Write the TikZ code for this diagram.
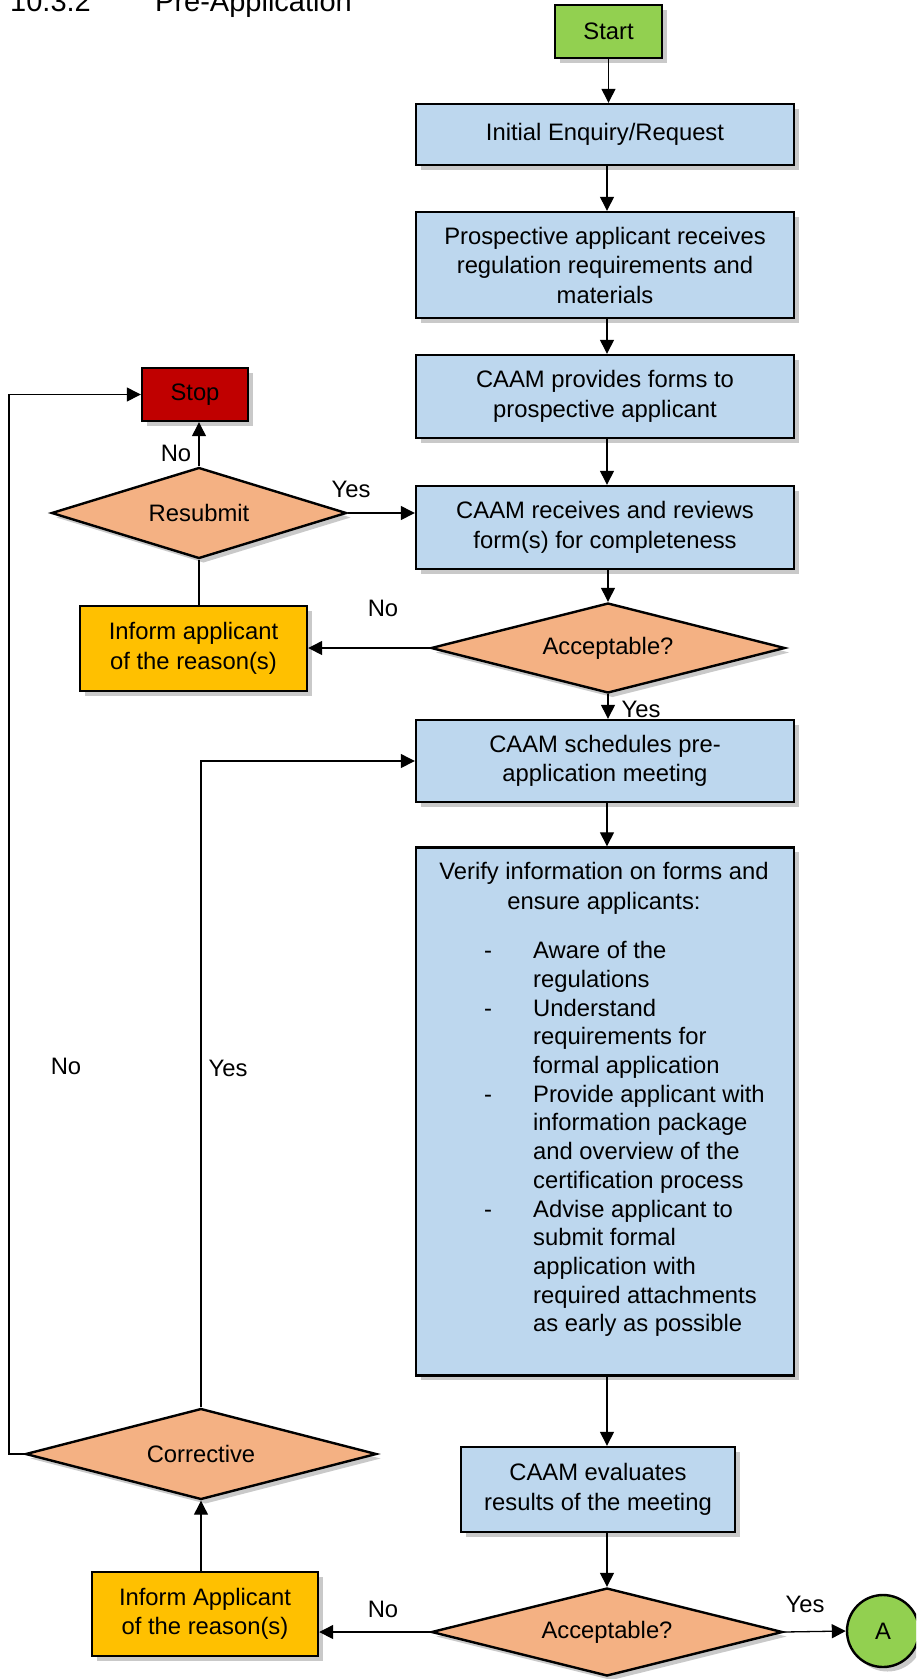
\documentclass[tikz,border=0pt]{standalone}
\usepackage{fontspec}
\setmainfont{Liberation Sans}
\usetikzlibrary{shapes.geometric,arrows.meta,shadows}
\definecolor{boxblue}{HTML}{BDD7EE}
\definecolor{startgreen}{HTML}{92D050}
\definecolor{stopred}{HTML}{C00000}
\definecolor{decorange}{HTML}{F4B183}
\definecolor{informyellow}{HTML}{FFC000}
\begin{document}
\begin{tikzpicture}[x=1pt,y=-1pt,
  every node/.style={font=\fontsize{23.8}{29.5}\selectfont},
  base/.style={draw=black, line width=2.4pt, inner sep=0pt, align=center,
    drop shadow={shadow xshift=4.5pt, shadow yshift=-4.5pt, opacity=0.3, fill=black!70}},
  bluebox/.style={base, rectangle, fill=boxblue, minimum width=378pt},
  decision/.style={base, diamond, shape aspect=3.9, fill=decorange},
  informbox/.style={base, rectangle, fill=informyellow},
  arr/.style={-{Triangle[length=14pt,width=14pt]}, line width=1.3pt},
  plain/.style={line width=1.3pt},
  lbl/.style={inner sep=0pt}]
\useasboundingbox (0,0) rectangle (916,1679);
\clip (0,0) rectangle (916,1679);

% title
\node[lbl, anchor=base west, font=\fontsize{29}{34}\selectfont] (t1) at (10,11) {10.3.2};
\node[lbl, anchor=base west, font=\fontsize{29}{34}\selectfont] (t2) at (155,11) {Pre-Application};

% main column
\node[base, rectangle, fill=startgreen, minimum width=107pt, minimum height=53pt] (start) at (608.5,31.5) {Start};
\node[bluebox, minimum height=61pt] (init) at (605,134.5) {Initial Enquiry/Request};
\node[bluebox, minimum height=106pt] (prosp) at (605,265) {Prospective applicant receives\\regulation requirements and\\materials};
\node[bluebox, minimum height=83pt] (forms) at (605,396.5) {CAAM provides forms to\\prospective applicant};
\node[bluebox, minimum height=83pt] (recv) at (605,527.5) {CAAM receives and reviews\\form(s) for completeness};
\node[decision, minimum width=354pt, minimum height=90pt] (acc1) at (608,648) {Acceptable?};
\node[bluebox, minimum height=82pt] (sched) at (605,761) {CAAM schedules pre-\\application meeting};
\node[bluebox, minimum height=528pt] (verify) at (605,1111.5) {};
\node[lbl, align=center, font=\fontsize{23.8}{30}\selectfont] (vhead) at (604,888) {Verify information on forms and\\ensure applicants:};
\node[lbl, anchor=west, font=\fontsize{23.8}{28.7}\selectfont] (vlist) at (484,1139.5) {%
\begin{tabular}{@{}p{49pt}@{}l@{}}
- & Aware of the\\
  & regulations\\
- & Understand\\
  & requirements for\\
  & formal application\\
- & Provide applicant with\\
  & information package\\
  & and overview of the\\
  & certification process\\
- & Advise applicant to\\
  & submit formal\\
  & application with\\
  & required attachments\\
  & as early as possible
\end{tabular}};
\node[bluebox, minimum width=274pt, minimum height=85pt] (eval) at (598,1489.5) {CAAM evaluates\\results of the meeting};
\node[decision, minimum width=351pt, minimum height=88pt] (acc2) at (607,1632) {Acceptable?};
\node[base, circle, fill=startgreen, minimum size=72pt] (A) at (883,1631) {A};

% left side
\node[base, rectangle, fill=stopred, minimum width=106pt, minimum height=53pt] (stop) at (195,394.5) {Stop};
\node[decision, minimum width=295pt, minimum height=91pt] (resub) at (199,513) {Resubmit};
\node[informbox, minimum width=227pt, minimum height=85pt] (inf1) at (193.5,648.5) {Inform applicant\\of the reason(s)};
\node[decision, minimum width=351pt, minimum height=91pt] (corr) at (201,1454) {Corrective};
\node[informbox, minimum width=226pt, minimum height=84pt] (inf2) at (205,1614) {Inform Applicant\\of the reason(s)};

\coordinate (col) at (607,0);
\coordinate (lft) at (9,0);

% connectors main column
\draw[arr] (start.south) -- (start.south |- init.north);
\draw[arr] (init.south -| col) -- (prosp.north -| col);
\draw[arr] (prosp.south -| col) -- (forms.north -| col);
\draw[arr] (forms.south -| col) -- (recv.north -| col);
\draw[arr] (recv.south -| acc1.north) -- (acc1.north);
\draw[arr] (acc1.south) -- (acc1.south |- sched.north);
\draw[arr] (sched.south -| col) -- (verify.north -| col);
\draw[arr] (verify.south -| col) -- (eval.north -| col);
\draw[arr] (eval.south -| acc2.north) -- (acc2.north);
\draw[arr] (acc2.east) -- (A.west);
\draw[arr] (acc2.west) -- (inf2.east |- acc2.west);

% connectors left
\draw[arr] (acc1.west) -- (inf1.east |- acc1.west);
\draw[plain] (inf1.north -| resub.south) -- (resub.south);
\draw[arr] (resub.north) -- (resub.north |- stop.south);
\draw[arr] (resub.east) -- (recv.west |- resub.east);
\draw[arr] (inf2.north -| corr.south) -- (corr.south);
\draw[arr] (corr.north) |- (sched.west);
\draw[arr] (corr.west) -- (corr.west -| lft) |- (stop.west);

% labels
\node[lbl] (l1) at (176,453) {No};
\node[lbl] (l2) at (351,489) {Yes};
\node[lbl] (l3) at (383,608) {No};
\node[lbl] (l4) at (641,709) {Yes};
\node[lbl] (l5) at (66,1066) {No};
\node[lbl] (l6) at (228,1068) {Yes};
\node[lbl] (l7) at (383,1609) {No};
\node[lbl] (l8) at (805,1604) {Yes};
\end{tikzpicture}
\end{document}
